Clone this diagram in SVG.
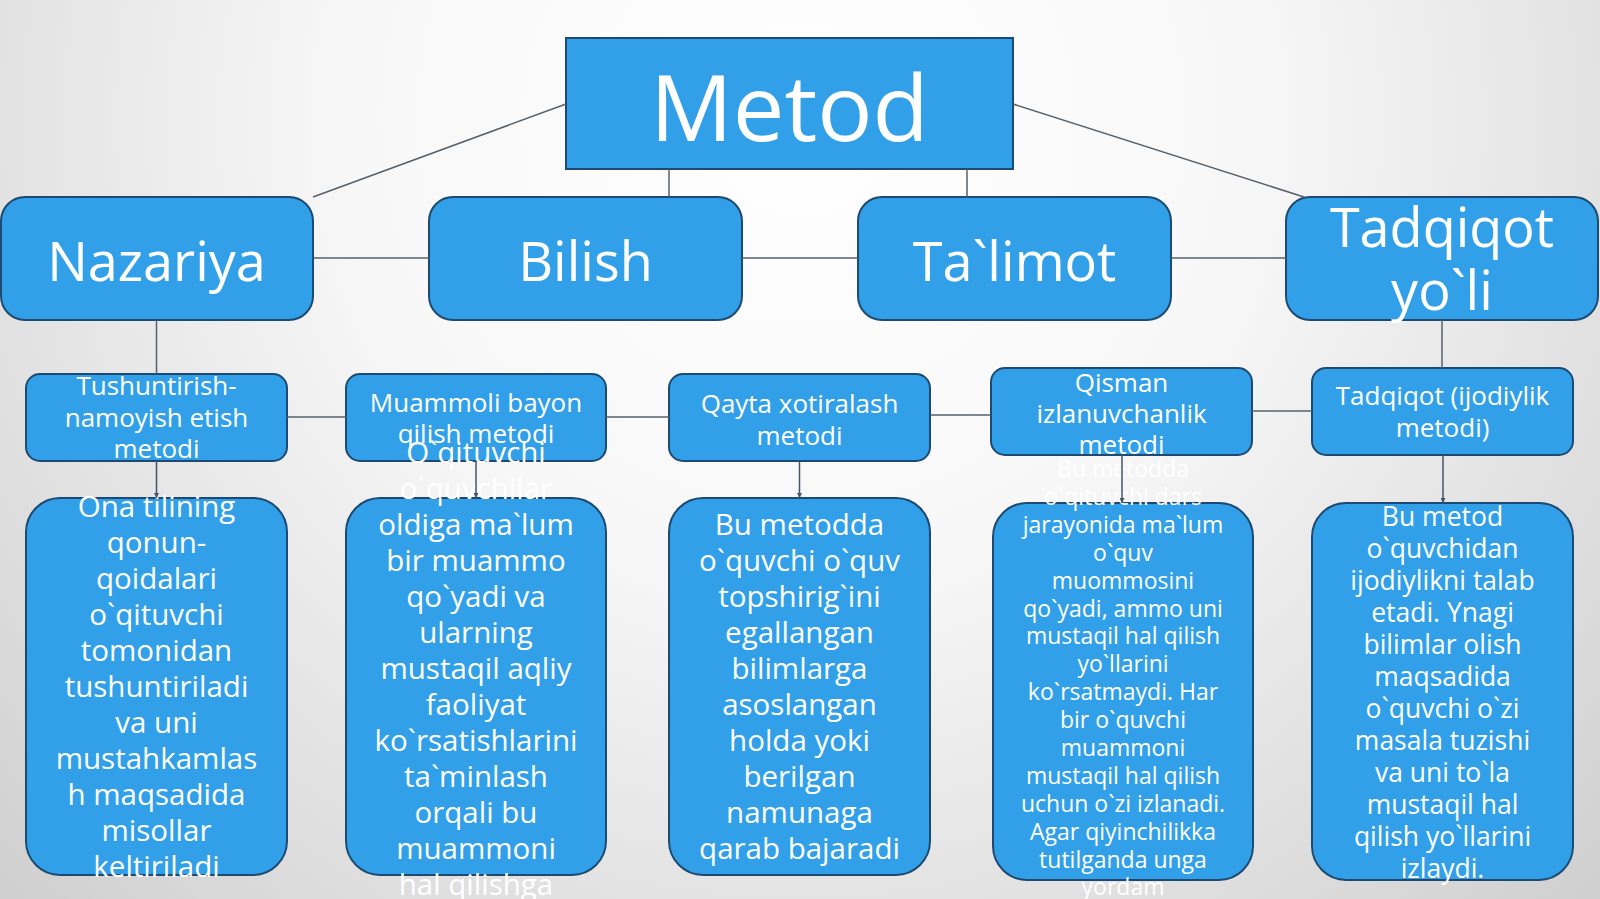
<svg xmlns="http://www.w3.org/2000/svg" width="1600" height="899" viewBox="0 0 1600 899">
<defs>
<radialGradient id="bg" cx="800" cy="120" r="1150" gradientUnits="userSpaceOnUse">
<stop offset="0" stop-color="#ffffff"/>
<stop offset="0.4" stop-color="#f7f7f7"/>
<stop offset="1" stop-color="#cdcdcd"/>
</radialGradient>
<marker id="arr" viewBox="0 0 10 10" refX="10" refY="5" markerWidth="5" markerHeight="5" markerUnits="userSpaceOnUse" orient="auto">
<path d="M0,0 L10,5 L0,10 z" fill="#44546a"/>
</marker>
<style>
.box{fill:#31a0e9;stroke:#1d4a72;stroke-width:2}
.t{fill:#ffffff;font-family:"Open Sans","Noto Sans",sans-serif;text-anchor:middle}
.con{stroke:#56606b;stroke-width:1.5;fill:none}
.ar{stroke:#44546a;stroke-width:1.5;fill:none;marker-end:url(#arr)}
</style>
</defs>
<rect x="0" y="0" width="1600" height="899" fill="url(#bg)"/>

<g id="metod">
<rect class="box" x="566" y="38" width="447" height="131"/>
<text class="t" x="789.5" y="141" font-size="92">Metod</text>
</g>

<g id="nazariya">
<rect class="box" x="1" y="197" width="312" height="123" rx="24"/>
<text class="t" x="156.5" y="281" font-size="54">Nazariya</text>
</g>
<g id="bilish">
<rect class="box" x="429" y="197" width="313" height="123" rx="24"/>
<text class="t" x="585.5" y="281" font-size="54">Bilish</text>
</g>
<g id="talimot">
<rect class="box" x="858" y="197" width="313" height="123" rx="24"/>
<text class="t" x="1014.5" y="281" font-size="54">Ta`limot</text>
</g>
<g id="tadqiqot-yoli">
<rect class="box" x="1286" y="197" width="312" height="123" rx="24"/>
<text class="t" x="1442" y="247" font-size="54">Tadqiqot</text>
<text class="t" x="1442" y="310" font-size="54">yo`li</text>
</g>

<g id="tushuntirish">
<rect class="box" x="26" y="374" width="261" height="87" rx="14"/>
<text class="t" x="156.5" y="395" font-size="26">Tushuntirish-</text>
<text class="t" x="156.5" y="427" font-size="26">namoyish etish</text>
<text class="t" x="156.5" y="458" font-size="26">metodi</text>
</g>
<g id="muammoli">
<rect class="box" x="346" y="374" width="260" height="87" rx="14"/>
<text class="t" x="476" y="412" font-size="26">Muammoli bayon</text>
<text class="t" x="476" y="443" font-size="26">qilish metodi</text>
</g>
<g id="qayta">
<rect class="box" x="669" y="374" width="261" height="87" rx="14"/>
<text class="t" x="799.5" y="413" font-size="26">Qayta xotiralash</text>
<text class="t" x="799.5" y="445" font-size="26">metodi</text>
</g>
<g id="qisman">
<rect class="box" x="991" y="368" width="261" height="87" rx="14"/>
<text class="t" x="1121.5" y="392" font-size="26">Qisman</text>
<text class="t" x="1121.5" y="423" font-size="26">izlanuvchanlik</text>
<text class="t" x="1121.5" y="454" font-size="26">metodi</text>
</g>
<g id="tadqiqot-ijodiylik">
<rect class="box" x="1312" y="368" width="261" height="87" rx="14"/>
<text class="t" x="1442.5" y="405" font-size="26">Tadqiqot (ijodiylik</text>
<text class="t" x="1442.5" y="437" font-size="26">metodi)</text>
</g>

<g id="desc1">
<rect class="box" x="26" y="498" width="261" height="377" rx="34"/>
<g class="t" font-size="29.5">
<text x="156.5" y="517">Ona tilining</text>
<text x="156.5" y="553">qonun-</text>
<text x="156.5" y="589">qoidalari</text>
<text x="156.5" y="625">o`qituvchi</text>
<text x="156.5" y="661">tomonidan</text>
<text x="156.5" y="697">tushuntiriladi</text>
<text x="156.5" y="733">va uni</text>
<text x="156.5" y="769">mustahkamlas</text>
<text x="156.5" y="805">h maqsadida</text>
<text x="156.5" y="841">misollar</text>
<text x="156.5" y="877">keltiriladi</text>
</g>
</g>
<g id="desc2">
<rect class="box" x="346" y="498" width="260" height="377" rx="34"/>
<g class="t" font-size="29.5">
<text x="476" y="463">O`qituvchi</text>
<text x="476" y="499">o`quvchilar</text>
<text x="476" y="535">oldiga ma`lum</text>
<text x="476" y="571">bir muammo</text>
<text x="476" y="607">qo`yadi va</text>
<text x="476" y="643">ularning</text>
<text x="476" y="679">mustaqil aqliy</text>
<text x="476" y="715">faoliyat</text>
<text x="476" y="751">ko`rsatishlarini</text>
<text x="476" y="787">ta`minlash</text>
<text x="476" y="823">orqali bu</text>
<text x="476" y="859">muammoni</text>
<text x="476" y="895">hal qilishga</text>
</g>
</g>
<g id="desc3">
<rect class="box" x="669" y="498" width="261" height="377" rx="34"/>
<g class="t" font-size="29.5">
<text x="799.5" y="535">Bu metodda</text>
<text x="799.5" y="571">o`quvchi o`quv</text>
<text x="799.5" y="607">topshirig`ini</text>
<text x="799.5" y="643">egallangan</text>
<text x="799.5" y="679">bilimlarga</text>
<text x="799.5" y="715">asoslangan</text>
<text x="799.5" y="751">holda yoki</text>
<text x="799.5" y="787">berilgan</text>
<text x="799.5" y="823">namunaga</text>
<text x="799.5" y="859">qarab bajaradi</text>
</g>
</g>
<g id="desc4">
<rect class="box" x="993" y="503" width="260" height="377" rx="34"/>
<g class="t" font-size="23">
<text x="1123" y="477">Bu metodda</text>
<text x="1123" y="505">o`qituvchi dars</text>
<text x="1123" y="533">jarayonida ma`lum</text>
<text x="1123" y="561">o`quv</text>
<text x="1123" y="589">muommosini</text>
<text x="1123" y="617">qo`yadi, ammo uni</text>
<text x="1123" y="644">mustaqil hal qilish</text>
<text x="1123" y="672">yo`llarini</text>
<text x="1123" y="700">ko`rsatmaydi. Har</text>
<text x="1123" y="728">bir o`quvchi</text>
<text x="1123" y="756">muammoni</text>
<text x="1123" y="784">mustaqil hal qilish</text>
<text x="1123" y="812">uchun o`zi izlanadi.</text>
<text x="1123" y="840">Agar qiyinchilikka</text>
<text x="1123" y="868">tutilganda unga</text>
<text x="1123" y="895">yordam</text>
</g>
</g>
<g id="desc5">
<rect class="box" x="1312" y="503" width="261" height="377" rx="34"/>
<g class="t" font-size="26.5">
<text x="1442.5" y="526">Bu metod</text>
<text x="1442.5" y="558">o`quvchidan</text>
<text x="1442.5" y="590">ijodiylikni talab</text>
<text x="1442.5" y="622">etadi. Ynagi</text>
<text x="1442.5" y="654">bilimlar olish</text>
<text x="1442.5" y="686">maqsadida</text>
<text x="1442.5" y="718">o`quvchi o`zi</text>
<text x="1442.5" y="750">masala tuzishi</text>
<text x="1442.5" y="782">va uni to`la</text>
<text x="1442.5" y="814">mustaqil hal</text>
<text x="1442.5" y="846">qilish yo`llarini</text>
<text x="1442.5" y="878">izlaydi.</text>
</g>
</g>

<g id="connectors">
<line class="con" x1="566" y1="104" x2="313" y2="197"/>
<line class="con" x1="1013" y1="104" x2="1304" y2="197"/>
<line class="con" x1="669" y1="169" x2="669" y2="197"/>
<line class="con" x1="967" y1="169" x2="967" y2="197"/>
<line class="con" x1="313" y1="258" x2="429" y2="258"/>
<line class="con" x1="742" y1="258" x2="858" y2="258"/>
<line class="con" x1="1171" y1="258" x2="1286" y2="258"/>
<line class="con" x1="156.5" y1="320" x2="156.5" y2="374"/>
<line class="con" x1="1442" y1="320" x2="1442" y2="368"/>
<line class="con" x1="287" y1="417" x2="346" y2="417"/>
<line class="con" x1="606" y1="417" x2="669" y2="417"/>
<line class="con" x1="930" y1="415" x2="991" y2="415"/>
<line class="con" x1="1252" y1="411" x2="1312" y2="411"/>
<line class="ar" x1="156.5" y1="461" x2="156.5" y2="498"/>
<line class="ar" x1="476" y1="461" x2="476" y2="498"/>
<line class="ar" x1="799.5" y1="461" x2="799.5" y2="498"/>
<line class="ar" x1="1122" y1="455" x2="1122" y2="503"/>
<line class="ar" x1="1443" y1="455" x2="1443" y2="503"/>
</g>
</svg>
